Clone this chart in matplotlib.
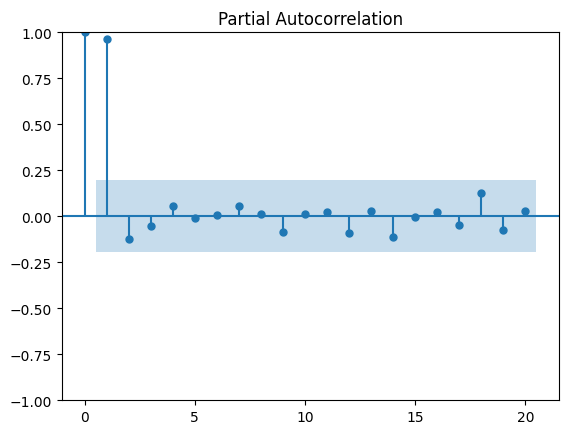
import numpy as np
import matplotlib.pyplot as plt

# partial autocorrelation per lag
lags = list(range(0, 21))
pacf_vals = [1.0, 0.96, -0.125, -0.055, 0.054, -0.01, 0.005, 0.054, 0.01, -0.087,
             0.01, 0.02, -0.092, 0.03, -0.114, -0.005, 0.02, -0.05, 0.125, -0.077, 0.025]
conf_half = 0.196  # 1.96 / sqrt(n)

fig, ax = plt.subplots(figsize=(5.68, 4.35), dpi=100)
fig.subplots_adjust(left=0.109, right=0.984, bottom=0.078, top=0.924)

x = np.array(lags, dtype=float)
y = np.array(pacf_vals)
ax.vlines(x, [0], y)
ax.axhline()
ax.plot(x, y, marker='o', markersize=5, linestyle='None', color='C0')

band_x = x[1:].copy()
band_x[0] -= 0.5
band_x[-1] += 0.5
ax.fill_between(band_x, -conf_half, conf_half, alpha=0.25, linewidth=0)

ax.set_ylim(-1, 1)
ax.set_title('Partial Autocorrelation')
fig.savefig('out.png')
